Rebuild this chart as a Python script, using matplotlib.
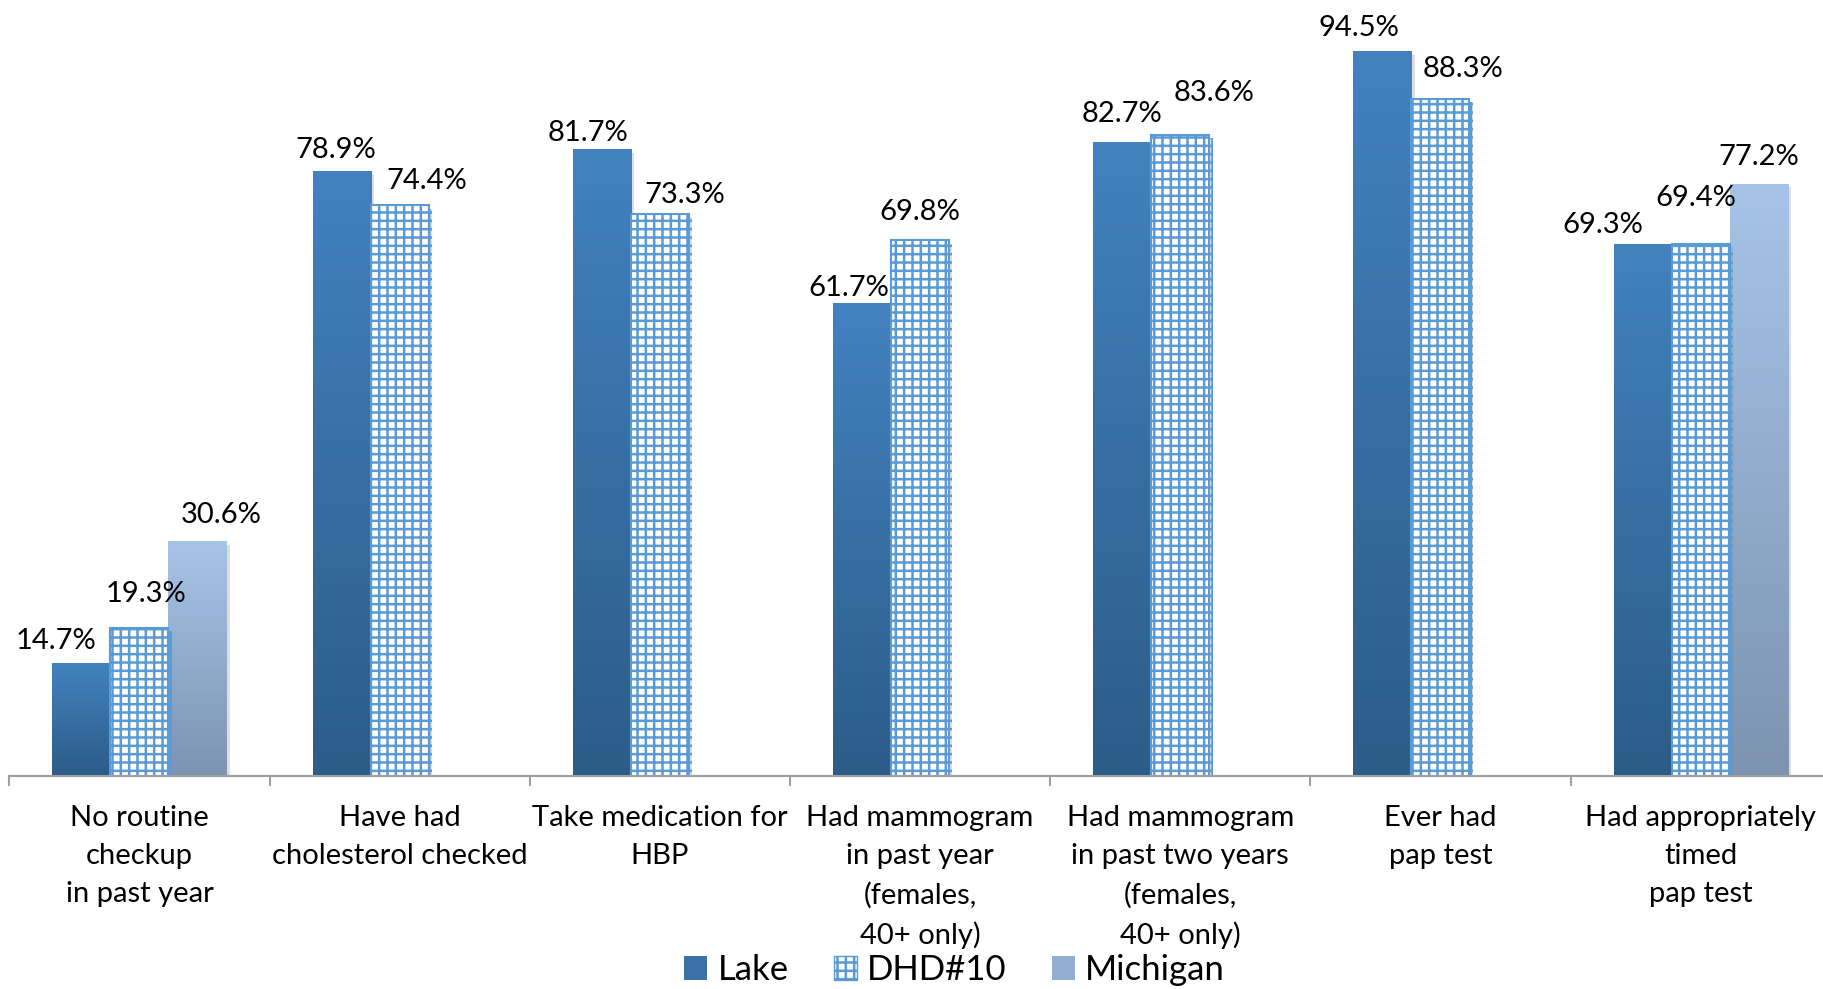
import numpy as np
import matplotlib
matplotlib.use('Agg')
import matplotlib.pyplot as plt
from matplotlib.colors import LinearSegmentedColormap
from matplotlib.patches import Patch
import matplotlib.patheffects as pe

# ---------------- data ----------------
categories = [
    "No routine\ncheckup\nin past year",
    "Have had\ncholesterol checked",
    "Take medication for\nHBP",
    "Had mammogram\nin past year\n(females,\n40+ only)",
    "Had mammogram\nin past two years\n(females,\n40+ only)",
    "Ever had\npap test",
    "Had appropriately\ntimed\npap test",
]
lake = [14.7, 78.9, 81.7, 61.7, 82.7, 94.5, 69.3]
dhd10 = [19.3, 74.4, 73.3, 69.8, 83.6, 88.3, 69.4]
michigan = [30.6, None, None, None, None, None, 77.2]
series_names = ["Lake", "DHD#10", "Michigan"]

# ---------------- label placement (pixels: dx, height of text centre above bar) ----------------
lake_lab = [(-25, 24.5), (-5.5, 23), (-13.5, 19), (-13, 17), (0, 30.5), (-23, 25), (-39.5, 22)]
dhd_lab = [(6.5, 36.5), (27.5, 26.5), (25, 21.5), (0, 30.5), (34, 44), (23, 32), (-4.5, 48)]
mich_lab = [(24, 29), None, None, None, None, None, (0, 29)]

FONT = ["Lato", "DejaVu Sans"]
plt.rcParams['font.family'] = FONT
plt.rcParams['hatch.linewidth'] = 1.8

W, H, DPI = 1824, 989, 100
PX = 72.0 / DPI

fig = plt.figure(figsize=(W / DPI, H / DPI), dpi=DPI)
ax = fig.add_axes([9.3 / W, (H - 776) / H, 1821.4 / W, 767.2 / H])

lake_cmap = LinearSegmentedColormap.from_list("lake", ["#2c5c88", "#4282bf"])
mich_cmap = LinearSegmentedColormap.from_list("mich", ["#7d93b0", "#a6c4e8"])
dhd_color = "#5b9bd5"

bw = 0.223
x = np.arange(len(categories))
shadow = [pe.SimplePatchShadow(offset=(2.5, -2.5), shadow_rgbFace="#7f7f7f", alpha=0.25), pe.Normal()]

grad = np.linspace(0, 1, 256).reshape(-1, 1)


def gradient_bars(bars, cmap):
    for b in bars:
        h = b.get_height()
        if not np.isfinite(h):
            continue
        im = ax.imshow(grad, cmap=cmap, origin="lower", aspect="auto",
                       extent=[b.get_x(), b.get_x() + b.get_width(), 0, h],
                       zorder=2.5, interpolation="bilinear")
        im.set_clip_path(b)


lake_bars = ax.bar(x - bw, lake, width=bw, color="#3a72a8", linewidth=0, zorder=2)
for b in lake_bars:
    b.set_path_effects(shadow)
gradient_bars(lake_bars, lake_cmap)

dhd_bars = ax.bar(x, dhd10, width=bw, facecolor="white", edgecolor=dhd_color,
                  hatch="++", linewidth=1.5, zorder=3)
for b in dhd_bars:
    b.set_path_effects(shadow)

mx = [xi + bw for xi, v in zip(x, michigan) if v is not None]
mv = [v for v in michigan if v is not None]
mich_bars = ax.bar(mx, mv, width=bw, color="#93aed0", linewidth=0, zorder=2)
for b in mich_bars:
    b.set_path_effects(shadow)
gradient_bars(mich_bars, mich_cmap)

# value labels
DIGIT_HALF = 10.5


def label(xc, v, off):
    dx, dy = off
    ax.annotate(f"{v:.1f}%", xy=(xc, v), xytext=(dx * PX, (dy - DIGIT_HALF) * PX),
                textcoords="offset points", ha="center", va="baseline",
                fontsize=21, color="black", zorder=5)


for b, v, off in zip(lake_bars, lake, lake_lab):
    label(b.get_x() + b.get_width() / 2, v, off)
for b, v, off in zip(dhd_bars, dhd10, dhd_lab):
    label(b.get_x() + b.get_width() / 2, v, off)
mlabs = [o for o in mich_lab if o is not None]
for b, v, off in zip(mich_bars, mv, mlabs):
    label(b.get_x() + b.get_width() / 2, v, off)

ax.set_xlim(-0.5, len(categories) - 0.5)
ax.set_ylim(0, 100)

for s in ["top", "left", "right"]:
    ax.spines[s].set_visible(False)
ax.spines["bottom"].set_color("#a0a0a0")
ax.spines["bottom"].set_linewidth(1.5)
ax.spines["bottom"].set_zorder(4)
ax.set_yticks([])

ax.set_xticks(x)
ax.set_xticklabels(categories, fontsize=21)
ax.tick_params(axis="x", which="major", length=0, pad=21)
ax.set_xticks(np.arange(-0.5, len(categories), 1), minor=True)
ax.tick_params(axis="x", which="minor", length=7.5, width=1.5, color="#a0a0a0", direction="out")
for lbl in ax.get_xticklabels():
    lbl.set_linespacing(1.57)

handles = [
    Patch(facecolor="#3a72a8", edgecolor="none"),
    Patch(facecolor="white", edgecolor=dhd_color, hatch="++", linewidth=1.0),
    Patch(facecolor="#93aed0", edgecolor="none"),
]
fig.legend(handles, series_names, loc="center", bbox_to_anchor=(954.5 / W, 1 - 970 / H),
           ncol=3, frameon=False, fontsize=25, handlelength=0.66, handleheight=0.66,
           handletextpad=0.3, columnspacing=1.3, borderpad=0, borderaxespad=0)

fig.savefig("out.png", dpi=DPI)
